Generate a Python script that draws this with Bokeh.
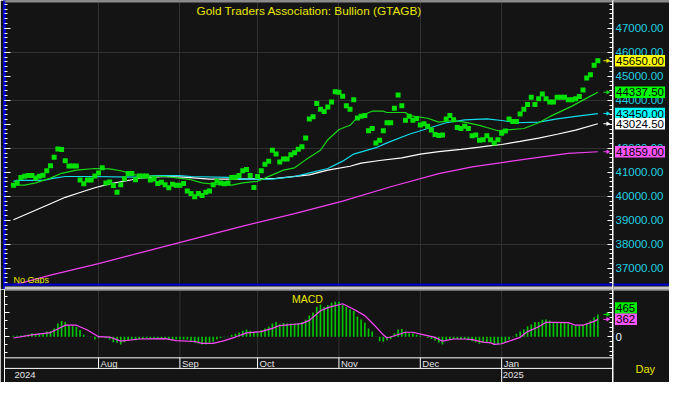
from bokeh.plotting import figure
from bokeh.layouts import column, row
from bokeh.models import (Range1d, LinearAxis, FixedTicker, BoxAnnotation, Grid, Span)
from bokeh.embed import file_html
from bokeh.resources import INLINE
from bokeh.core.properties import value

# ---------------- data ----------------
price = [
    40467, 40560, 40787, 40840, 40867, 40867, 40760, 40840, 40880, 41067,
    41280, 41627, 41973, 41947, 41480, 41267, 41267, 41267, 40680, 40520,
    40680, 40680, 40853, 40973, 41187, 40560, 40600, 40453, 40173, 40480,
    40733, 40947, 40947, 40693, 40853, 40853, 40853, 40680, 40720, 40533,
    40587, 40480, 40360, 40507, 40467, 40467, 40533, 40227, 40120, 39987,
    40120, 40040, 40173, 40227, 40480, 40627, 40560, 40520, 40560, 40787,
    40800, 40867, 41067,
    41120, 40867, 40373, 40827, 41067, 41333, 41467, 41920, 41760, 41427,
    41560, 41560, 41733, 41813, 41960, 42067, 42427, 43227, 43320, 43867,
    43627, 43533, 43720, 43933, 44360, 44333, 44173, 43773, 43627, 44027,
    43267, 43333, 43373, 42733, 42827, 42227, 42333, 42733, 43067, 43067,
    43667, 44227, 43773, 43173, 43333, 43173, 43240, 42973, 43027, 42920,
    42760, 42573, 42533, 42560, 43227, 43373, 43187, 42867, 42827, 42920,
    42827, 42520, 42560, 42333, 42360, 42520,
    42360, 42227, 42360, 42627, 42720, 43227, 43120, 43120, 43427, 43627,
    43827, 44133, 43827, 44067, 44267, 44067, 43933, 43933, 44133, 44133,
    44133, 44027, 44027, 44067, 44160, 44427, 44933, 45067, 45467, 45650,
]

ma20_idx = [0, 3, 6, 10, 13, 17, 22, 26, 29, 33, 35, 41, 48, 51, 55, 59, 62, 66, 70, 73,
            76, 79, 83, 85, 88, 91, 93, 97, 100, 101, 106, 107, 112, 115, 119, 122, 126,
            128, 131, 133, 138, 142, 145, 151, 155, 158]
ma20_val = [40467, 40467, 40560, 40760, 40960, 41093, 41160, 41147, 41067, 40893,
            40853, 40827, 40693, 40560, 40493, 40467, 40560, 40627, 40893, 41093,
            41187, 41520, 41920, 42360, 42787, 42960, 43293, 43547, 43547, 43493,
            43493, 43360, 43253, 43093, 43160, 43093, 42960, 42867, 42733, 42760,
            42827, 43067, 43320, 43760, 44093, 44337.5]

ma50_idx = [0, 1, 8, 11, 14, 21, 33, 38, 45, 48, 58, 62, 70, 76, 79, 85, 89, 92, 98, 101,
            107, 112, 117, 122, 128, 132, 136, 142, 147, 152, 158]
ma50_val = [40627, 40667, 40667, 40760, 40827, 40827, 40800, 40867, 40867, 40827,
            40787, 40720, 40720, 40827, 40933, 41160, 41467, 41760, 42027, 42227,
            42587, 42827, 43067, 43187, 43227, 43160, 43067, 43093, 43227, 43333, 43450]

ma100_idx = [0, 5, 10, 14, 18, 22, 26, 32, 34, 41, 46, 53, 62, 71, 80, 85, 91, 94, 99, 105,
             110, 115, 121, 126, 128, 132, 137, 142, 147, 152, 158]
ma100_val = [39027, 39360, 39693, 39960, 40160, 40360, 40520, 40693, 40760, 40827,
             40800, 40720, 40720, 40747, 40893, 41093, 41253, 41387, 41493, 41600,
             41760, 41867, 41960, 42053, 42093, 42160, 42293, 42427, 42587, 42760, 43024.5]

ma200_idx = [0, 10, 23, 36, 49, 62, 76, 89, 102, 115, 124, 133, 142, 150, 158]
ma200_val = [36300, 36720, 37200, 37720, 38240, 38760, 39280, 39800, 40400, 40950,
             41227, 41427, 41627, 41787, 41859]

macd = [
    20, 20, 27, 33, 47, 73, 60, 67, 73, 107, 120, 173, 273, 327, 307, 240, 220, 207, 140, 40,
    7, -7, -60, -33, -13, -33, -60, -113, -127, -160, -113, -73, -60, -73, -53, -47, -33, -47, -40, -47,
    -40, -40, -60, -73, -60, -60, -60, -60, -93, -127, -140, -160, -160, -127, -107, -60, -27, -13, 7, 40,
    60, 87, 127,
    153, 127, 93, 93, 140, 173, 207, 273, 307, 260, 287, 273, 273, 273, 287, 307, 353, 440, 507, 627,
    673, 620, 660, 707, 727, 727, 660, 627, 573, 540, 420, 360, 293, 173, 107, 7, -93, -107, -73, -47,
    73, 153, 160, 107, 73, 73, 40, 20, 7, -27, -47, -80, -127, -160, -93, -60, -47, -47, -60, -47,
    -73, -93, -113, -147, -127, -113,
    -127, -160, -160, -147, -113, -60, -13, 60, 107, 153, 220, 253, 307, 307, 353, 360, 340, 307, 293, 293,
    293, 273, 240, 227, 227, 253, 287, 340, 407, 465,
]

signal_idx = [0, 5, 10, 14, 17, 20, 23, 26, 29, 34, 41, 44, 49, 51, 54, 57, 60, 63, 67, 70,
              72, 76, 78, 80, 83, 85, 89, 92, 95, 98, 100, 101, 103, 106, 108, 111, 114, 116,
              119, 122, 124, 127, 129, 130, 132, 134, 137, 139, 142, 144, 146, 150, 152, 154,
              157, 158]
signal_val = [-27, 40, 87, 240, 240, 140, 0, -7, -93, -47, -40, -80, -100, -140, -140, -80, -7, 80,
              107, 173, 233, 260, 273, 340, 540, 607, 687, 573, 440, 207, 40, -27, 20, 93, 93, 40,
              -13, -93, -47, -47, -60, -113, -127, -160, -147, -93, -13, 107, 207, 300, 300, 293,
              240, 240, 320, 362]

month_labels = ["Aug", "Sep", "Oct", "Nov", "Dec", "Jan"]
month_idx = [23, 45, 66, 88, 110, 132]
year_labels = ["2024", "2025"]
year_idx = [0, 132]

price_ticks = list(range(37000, 47001, 1000))
price_minor = list(range(36400, 48001, 200))
price_grid = list(range(38000, 46001, 2000))

# ---------------- styling / layout ----------------
FONT = "Liberation Sans"
BG = "#141414"
GRID = "#313131"
YELLOW = "#e8e800"
C_PRICE = "#00e000"
C_MA20 = "#18d818"
C_MA50 = "#12dcec"
C_MA100 = "#ffffff"
C_MA200 = "#f040f0"
C_BAR = "#00c400"
C_SIG = "#ff48ff"
AX_TXT = "#22cfe0"
SEP_BLUE = "#0000c0"
SEP_GRAY = "#c8c8c8"
TOP_GRAY = "#8a8a8a"

WM, WS = 613, 56          # main plot width, side (label) strip width
H1, H2 = 289, 93
LB = 4
X0, X1 = -2.43, 161.97
P_LO, P_HI = 36119, 48160
M_LO, M_HI = -954, 984
ARROW_X0, ARROW_X1 = 1.5, 2.7   # arrow start/end, in day units right of the last day

yr_price = Range1d(P_LO, P_HI)
yr_macd = Range1d(M_LO, M_HI)


def py(px):
    return P_HI - px * (P_HI - P_LO) / H1


def my(px):
    return M_HI - px * (M_HI - M_LO) / H2


def fig(w, h, xr, yr, lb=0, rb=0):
    return figure(width=w, height=h, x_range=xr, y_range=yr,
                  output_backend="svg", toolbar_location=None,
                  x_axis_type=None, y_axis_type=None,
                  min_border_left=lb, min_border_right=rb, min_border_top=0, min_border_bottom=0,
                  background_fill_color=BG, border_fill_color=BG, outline_line_color=None)


def tick_axis(ticks, minor, line_color="white", line_width=1, major_in=5):
    return LinearAxis(ticker=FixedTicker(ticks=ticks, minor_ticks=minor),
                      major_label_overrides={t: "" for t in ticks},
                      major_label_text_font_size="0px", major_label_standoff=0,
                      axis_line_color=line_color, axis_line_width=line_width,
                      major_tick_line_color="white", minor_tick_line_color="white",
                      major_tick_in=major_in, major_tick_out=0, minor_tick_in=3, minor_tick_out=0)


def arrows(f, ys, colors):
    n = len(ys)
    f.segment(x0=[last_i + ARROW_X0] * n, y0=ys, x1=[last_i + ARROW_X1] * n, y1=ys,
              line_color=colors, line_width=1)
    f.scatter(x=[last_i + ARROW_X1] * n, y=ys, marker="triangle", angle=-1.5708, size=4.5,
              fill_color=colors, line_color=None)


last_i = len(price) - 1

# ======== main price panel ========
p = fig(WM, H1, Range1d(X0, X1), yr_price, lb=LB, rb=1)
p.add_layout(Grid(dimension=0, ticker=FixedTicker(ticks=month_idx), grid_line_color=GRID))
p.add_layout(Grid(dimension=1, ticker=FixedTicker(ticks=price_grid), grid_line_color=GRID))

p.line(ma200_idx, ma200_val, line_color=C_MA200, line_width=1.2)
p.line(ma100_idx, ma100_val, line_color=C_MA100, line_width=1.2)
p.line(ma50_idx, ma50_val, line_color=C_MA50, line_width=1.2)
p.line(ma20_idx, ma20_val, line_color=C_MA20, line_width=1.2)
p.scatter(list(range(len(price))), price, marker="square", size=5,
          fill_color=C_PRICE, line_color=None)

p.add_layout(tick_axis(price_ticks, price_minor), "right")
p.add_layout(tick_axis(price_ticks, price_minor, line_color="#0000c8", line_width=3, major_in=6), "left")

p.text(x=80, y=47720, text=["Gold Traders Association: Bullion (GTAGB)"],
       text_align="center", text_baseline="middle", text_color=YELLOW,
       text_font=value(FONT), text_font_size=value("11.8px"))
p.text(x=0, y=36500, text=["No Gaps"], text_align="left", text_baseline="middle",
       text_color=YELLOW, text_font=value(FONT), text_font_size=value("9px"))

last_vals = [price[-1], ma20_val[-1], ma50_val[-1], ma100_val[-1], ma200_val[-1]]
arrow_cols = ["#e8e800", C_MA20, C_MA50, C_MA100, C_MA200]
box_cols = ["#ffff00", "#00ff00", "#00ffff", "#ffffff", "#ff55ff"]
arrows(p, last_vals, arrow_cols)

for band in [(py(283), py(285.2), SEP_BLUE), (py(286), P_LO, SEP_GRAY), (P_HI, py(2), TOP_GRAY)]:
    p.add_layout(BoxAnnotation(top=band[0], bottom=band[1], fill_color=band[2], fill_alpha=1, line_color=None))

# side strip with the price scale texts and last-value boxes
ps = fig(WS, H1, Range1d(0, WS), yr_price)
ps.text(x=2, y=price_ticks, text=[f"{t:.2f}" for t in price_ticks], text_align="left",
        text_baseline="middle", text_color=AX_TXT, text_font=value(FONT),
        text_font_size=value("11.5px"))
ps.rect(x=26.5, y=last_vals, width=50, height=11.5, width_units="screen", height_units="screen",
        fill_color=box_cols, line_color=None)
ps.text(x=2.5, y=last_vals, text=[f"{v:.2f}" for v in last_vals], text_align="left",
        text_baseline="middle", text_color="black", text_font=value(FONT),
        text_font_size=value("11.5px"))
for band in [(py(283), py(285.2), SEP_BLUE), (py(286), P_LO, SEP_GRAY), (P_HI, py(2), TOP_GRAY)]:
    ps.add_layout(BoxAnnotation(top=band[0], bottom=band[1], fill_color=band[2], fill_alpha=1, line_color=None))

# ======== MACD panel ========
m = fig(WM, H2, Range1d(X0, X1), yr_macd, lb=LB, rb=1)
m.segment(x0=month_idx, y0=-440, x1=month_idx, y1=my(0), line_color=GRID, line_width=1)
m.vbar(x=list(range(len(macd))), top=macd, bottom=0, width=0.45, fill_color=C_BAR, line_color=None)
m.line(signal_idx, signal_val, line_color=C_SIG, line_width=1.2)

m.add_layout(tick_axis([0, 500], list(range(-400, 901, 100))), "right")
m.add_layout(tick_axis([0, 500], [-333.3, -166.7, 166.7, 333.3, 666.7, 833.3]), "left")
m.add_layout(BoxAnnotation(top=M_HI, bottom=my(1), fill_color=SEP_GRAY, fill_alpha=1, line_color=None))
m.text(x=75.3, y=792, text=["MACD"], text_align="left", text_baseline="middle",
       text_color=YELLOW, text_font=value(FONT), text_font_size=value("10.5px"))

# date axis rows
m.add_layout(Span(location=-440, dimension="width", line_color="white", line_width=1))
m.add_layout(Span(location=-660, dimension="width", line_color="white", line_width=1))
m.segment(x0=month_idx, y0=-440, x1=month_idx, y1=-660, line_color="white", line_width=1)
m.segment(x0=year_idx[1:], y0=-660, x1=year_idx[1:], y1=M_LO, line_color="white", line_width=1)
m.text(x=month_idx, y=-560, text=month_labels, x_offset=2, text_align="left",
       text_baseline="middle", text_color="#e4e4e4", text_font=value(FONT),
       text_font_size=value("9.5px"))
m.text(x=year_idx, y=-790, text=year_labels, x_offset=1, text_align="left",
       text_baseline="middle", text_color="#e4e4e4", text_font=value(FONT),
       text_font_size=value("9.5px"))

macd_last = [macd[-1], signal_val[-1]]
arrows(m, macd_last, ["#00e000", C_SIG])

ms = fig(WS, H2, Range1d(0, WS), yr_macd)
box_step = 11.3 * (M_HI - M_LO) / H2
macd_box_y = [signal_val[-1] + box_step, signal_val[-1]]
ms.rect(x=12.5, y=macd_box_y, width=22, height=11.5, width_units="screen", height_units="screen",
        fill_color=["#00ee00", "#ff55ff"], line_color=None)
ms.text(x=2.5, y=macd_box_y, text=[str(v) for v in macd_last], text_align="left",
        text_baseline="middle", text_color="black", text_font=value(FONT),
        text_font_size=value("11.5px"))
ms.text(x=2, y=[0], text=["0"], text_align="left", text_baseline="middle",
        text_color="#e6f2ff", text_font=value(FONT), text_font_size=value("11.5px"))
ms.text(x=22, y=-670, text=["Day"], text_align="left", text_baseline="middle",
        text_color=YELLOW, text_font=value(FONT), text_font_size=value("11px"))
ms.add_layout(BoxAnnotation(top=M_HI, bottom=my(1), fill_color=SEP_GRAY, fill_alpha=1, line_color=None))

layout = column(row(p, ps, spacing=0), row(m, ms, spacing=0), spacing=0)
open("out.html", "w").write(file_html(layout, INLINE))
